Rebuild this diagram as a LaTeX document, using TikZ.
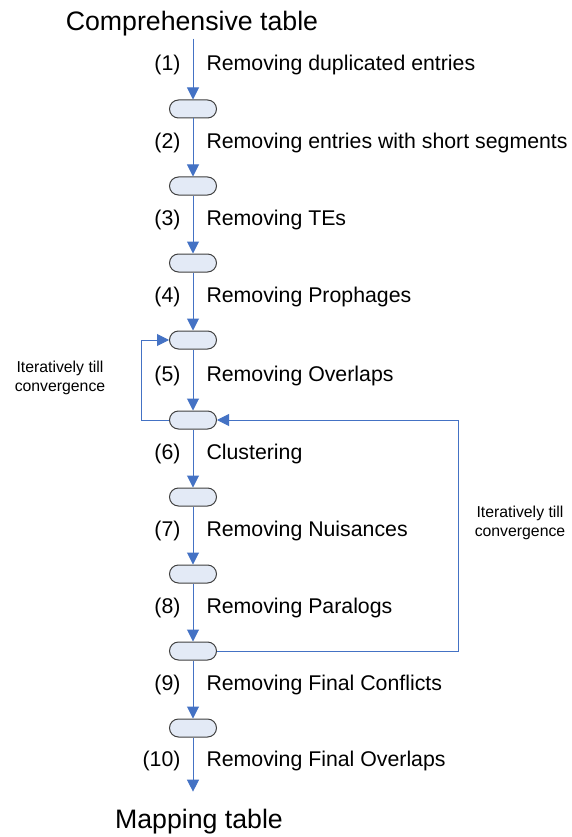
\documentclass[tikz,border=0pt]{standalone}
\usepackage{fontspec}
\setmainfont{Liberation Sans}
\usepackage{tikz}
\usetikzlibrary{arrows.meta,positioning,calc}

\definecolor{FlowBlue}{HTML}{4472C4}
\definecolor{PillFill}{HTML}{E3EAF6}
\definecolor{PillLine}{HTML}{404040}

\begin{document}
\begin{tikzpicture}[
	x=1pt,y=-1pt,
	pill/.style={
		rectangle,
		rounded corners=9pt,
		draw=PillLine,
		line width=1pt,
		fill=PillFill,
		minimum width=47pt,
		minimum height=18pt,
		inner sep=0pt
	},
	flow/.style={
		draw=FlowBlue,
		line width=1pt,
		-{Triangle[length=12pt,width=12pt]}
	},
	loop/.style={flow},
	num/.style={pos=0.43, anchor=east, xshift=-12pt, inner sep=0pt, font=\fontsize{21.3}{24}\selectfont},
	lbl/.style={pos=0.43, anchor=west, xshift=13pt, inner sep=0pt, font=\fontsize{21.3}{24}\selectfont},
	title/.style={inner sep=0pt, font=\fontsize{26.7}{30}\selectfont},
	note/.style={align=center, inner sep=0pt, font=\fontsize{15.8}{19}\selectfont},
	]
	\useasboundingbox (0,0) rectangle (571,837);
	
	\node[title, anchor=base, outer ysep=2pt] (src) at (192,31) {Comprehensive table};
	\node[title, anchor=base, outer ysep=17pt] (dst) at (199,828) {Mapping table};
	
	\node[pill] (p1) at (193,109) {};
	\node[pill] (p2) at (193,186) {};
	\node[pill] (p3) at (193,263) {};
	\node[pill] (p4) at (193,340) {};
	\node[pill] (p5) at (193,420) {};
	\node[pill] (p6) at (193,497) {};
	\node[pill] (p7) at (193,574) {};
	\node[pill] (p8) at (193,651) {};
	\node[pill] (p9) at (193,728) {};
	
	\draw[flow] (p1 |- src.south) to node[num] {(1)} node[lbl] {Removing duplicated entries} (p1);
	\draw[flow] (p1) to node[num] {(2)} node[lbl] {Removing entries with short segments} (p2);
	\draw[flow] (p2) to node[num] {(3)} node[lbl] {Removing TEs} (p3);
	\draw[flow] (p3) to node[num] {(4)} node[lbl] {Removing Prophages} (p4);
	\draw[flow] (p4) to node[num] {(5)} node[lbl] {Removing Overlaps} (p5);
	\draw[flow] (p5) to node[num] {(6)} node[lbl] {Clustering} (p6);
	\draw[flow] (p6) to node[num] {(7)} node[lbl] {Removing Nuisances} (p7);
	\draw[flow] (p7) to node[num] {(8)} node[lbl] {Removing Paralogs} (p8);
	\draw[flow] (p8) to node[num] {(9)} node[lbl] {Removing Final Conflicts} (p9);
	\draw[flow] (p9) to node[num] {(10)} node[lbl] {Removing Final Overlaps} (p9 |- dst.north);
	
	% the two iteration loops
	\draw[loop] (p5.west) -- ++(-28,0) |- (p4.west);
	\draw[loop] (p8.east) -- ++(241,0) |- (p5.east);
	\node[note] (itl) at (60,378) {Iteratively till\\convergence};
	\node[note] (itr) at (520,523) {Iteratively till\\convergence};
\end{tikzpicture}
\end{document}
